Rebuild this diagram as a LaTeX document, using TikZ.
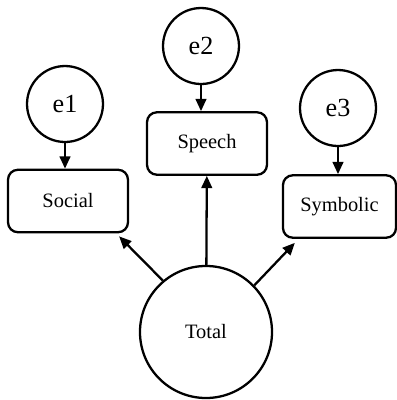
\documentclass[tikz,border=0pt]{standalone}
\usepackage{fontspec}
\setmainfont{Liberation Serif}
\usepackage{tikz}
\usetikzlibrary{calc,shapes,arrows.meta}

\tikzset{
  latent/.style={draw,circle,line width=1.4pt,minimum size=46.5pt,inner sep=0pt,font=\fontsize{16}{18}\selectfont},
  observed/.style={draw,rounded corners=6pt,line width=1.4pt,minimum width=73.4pt,minimum height=38.2pt,inner sep=0pt,font=\fontsize{12.5}{14}\selectfont},
  arr/.style={line width=1.4pt,-{Triangle[length=7.5pt,width=6.5pt]}}
}

\begin{document}
\begin{tikzpicture}[x=0.612pt,y=-0.612pt]
        \useasboundingbox (0,0) rectangle (397,400);
        \node[latent] (e1) at (65,104) {e1};
        \node[latent] (e2) at (201,46) {e2};
        \node[latent] (e3) at (338,108) {e3};
        \node[observed] (social) at (68,201) {Social};
        \node[observed] (speech) at (207,143.5) {Speech};
        \node[observed,minimum width=69.2pt] (symbolic) at (339.5,206.5) {Symbolic};
        \node[latent,minimum size=80.8pt,font=\fontsize{12.5}{14}\selectfont] (total) at (206,332) {Total};
        \draw[arr] (e1) -- (e1 |- social.north);
        \draw[arr] (e2) -- (e2 |- speech.north);
        \draw[arr] (e3) -- (e3 |- symbolic.north);
        \draw[arr] (total.130) -- ($(social.south east)+(-10,3)$);
        \draw[arr] (total) -- (speech);
        \draw[arr] (total.44) -- ($(symbolic.south west)+(13,4)$);
    \end{tikzpicture}
\end{document}
